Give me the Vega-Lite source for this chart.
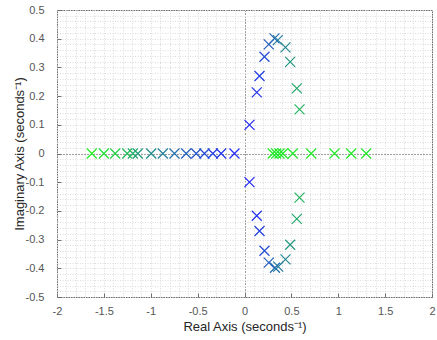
{
  "$schema": "https://vega.github.io/schema/vega-lite/v6.json",
  "width": 375,
  "height": 287,
  "autosize": {"type": "none"},
  "padding": {"left": 57, "top": 10, "right": 5, "bottom": 43},
  "background": "white",
  "config": {
    "view": {"stroke": "#707070", "strokeWidth": 1},
    "font": "Liberation Sans",
    "axis": {
      "domain": false,
      "labelFont": "Liberation Sans",
      "labelFontSize": 11,
      "labelColor": "#555555",
      "titleFont": "Liberation Sans",
      "titleFontSize": 13,
      "titleFontWeight": "normal",
      "titleColor": "#262626",
      "gridWidth": 1
    }
  },
  "data": {
    "values": [
      {"re": -0.107, "im": 0, "k": 0.03},
      {"re": -0.249, "im": 0, "k": 0.08},
      {"re": -0.338, "im": 0, "k": 0.13},
      {"re": -0.427, "im": 0, "k": 0.18},
      {"re": -0.515, "im": 0, "k": 0.24},
      {"re": -0.622, "im": 0, "k": 0.3},
      {"re": -0.747, "im": 0, "k": 0.38},
      {"re": -0.871, "im": 0, "k": 0.46},
      {"re": -0.995, "im": 0, "k": 0.52},
      {"re": -1.138, "im": 0, "k": 0.6},
      {"re": -1.191, "im": 0, "k": 0.68},
      {"re": -1.251, "im": 0, "k": 0.76},
      {"re": -1.379, "im": 0, "k": 0.86},
      {"re": -1.5, "im": 0, "k": 0.93},
      {"re": -1.629, "im": 0, "k": 1},
      {"re": 0.053, "im": 0.1, "k": 0.03},
      {"re": 0.131, "im": 0.213, "k": 0.08},
      {"re": 0.16, "im": 0.27, "k": 0.13},
      {"re": 0.213, "im": 0.337, "k": 0.2},
      {"re": 0.259, "im": 0.38, "k": 0.28},
      {"re": 0.32, "im": 0.401, "k": 0.36},
      {"re": 0.355, "im": 0.395, "k": 0.44},
      {"re": 0.437, "im": 0.37, "k": 0.5},
      {"re": 0.487, "im": 0.319, "k": 0.58},
      {"re": 0.558, "im": 0.227, "k": 0.66},
      {"re": 0.587, "im": 0.154, "k": 0.72},
      {"re": 0.053, "im": -0.1, "k": 0.03},
      {"re": 0.131, "im": -0.217, "k": 0.08},
      {"re": 0.16, "im": -0.27, "k": 0.13},
      {"re": 0.213, "im": -0.339, "k": 0.2},
      {"re": 0.259, "im": -0.38, "k": 0.28},
      {"re": 0.325, "im": -0.398, "k": 0.36},
      {"re": 0.36, "im": -0.394, "k": 0.44},
      {"re": 0.437, "im": -0.369, "k": 0.5},
      {"re": 0.487, "im": -0.318, "k": 0.58},
      {"re": 0.558, "im": -0.228, "k": 0.66},
      {"re": 0.587, "im": -0.154, "k": 0.72},
      {"re": 0.302, "im": 0, "k": 0.97},
      {"re": 0.338, "im": 0, "k": 0.97},
      {"re": 0.373, "im": 0, "k": 0.97},
      {"re": 0.409, "im": 0, "k": 0.97},
      {"re": 0.515, "im": 0, "k": 0.97},
      {"re": 0.711, "im": 0, "k": 0.97},
      {"re": 0.96, "im": 0, "k": 0.97},
      {"re": 1.138, "im": 0, "k": 0.97},
      {"re": 1.298, "im": 0, "k": 0.97}
    ]
  },
  "mark": {
    "type": "point",
    "shape": "M-1,-1L1,1M-1,1L1,-1",
    "size": 100,
    "filled": false,
    "strokeWidth": 1.2,
    "opacity": 1
  },
  "encoding": {
    "x": {
      "field": "re",
      "type": "quantitative",
      "scale": {"domain": [-2, 2], "nice": false, "zero": false},
      "axis": {
        "title": "Real Axis (seconds⁻¹)",
        "values": [-2, -1.9, -1.8, -1.7, -1.6, -1.5, -1.4, -1.3, -1.2, -1.1, -1, -0.9, -0.8, -0.7, -0.6, -0.5, -0.4, -0.3, -0.2, -0.1, 0, 0.1, 0.2, 0.3, 0.4, 0.5, 0.6, 0.7, 0.8, 0.9, 1, 1.1, 1.2, 1.3, 1.4, 1.5, 1.6, 1.7, 1.8, 1.9, 2],
        "labelExpr": "abs(round(datum.value*2) - datum.value*2) < 0.001 ? '' + datum.value : ''",
        "labelOverlap": false,
        "labelFlush": false,
        "grid": true,
        "gridColor": {"condition": {"test": "abs(datum.value) < 0.001", "value": "#404040"}, "value": "#dcdcdc"},
        "gridDash": {"condition": {"test": "abs(datum.value) < 0.001", "value": [1, 2]}, "value": [1, 1.5]},
        "tickSize": -4,
        "tickColor": "#707070",
        "tickOpacity": {"condition": {"test": "abs(round(datum.value*2) - datum.value*2) < 0.001", "value": 1}, "value": 0},
        "labelPadding": 12,
        "titlePadding": 4
      }
    },
    "y": {
      "field": "im",
      "type": "quantitative",
      "scale": {"domain": [-0.5, 0.5], "nice": false, "zero": false},
      "axis": {
        "title": "Imaginary Axis (seconds⁻¹)",
        "values": [-0.5, -0.48, -0.46, -0.44, -0.42, -0.4, -0.38, -0.36, -0.34, -0.32, -0.3, -0.28, -0.26, -0.24, -0.22, -0.2, -0.18, -0.16, -0.14, -0.12, -0.1, -0.08, -0.06, -0.04, -0.02, 0, 0.02, 0.04, 0.06, 0.08, 0.1, 0.12, 0.14, 0.16, 0.18, 0.2, 0.22, 0.24, 0.26, 0.28, 0.3, 0.32, 0.34, 0.36, 0.38, 0.4, 0.42, 0.44, 0.46, 0.48, 0.5],
        "labelExpr": "abs(round(datum.value*10) - datum.value*10) < 0.001 ? '' + datum.value : ''",
        "labelOverlap": false,
        "labelFlush": false,
        "grid": true,
        "gridColor": {"condition": {"test": "abs(datum.value) < 0.001", "value": "#404040"}, "value": "#dcdcdc"},
        "gridDash": {"condition": {"test": "abs(datum.value) < 0.001", "value": [1, 2]}, "value": [1, 1.5]},
        "tickSize": -4,
        "tickColor": "#707070",
        "tickOpacity": {"condition": {"test": "abs(round(datum.value*10) - datum.value*10) < 0.001", "value": 1}, "value": 0},
        "labelPadding": 17,
        "titlePadding": -1
      }
    },
    "color": {
      "field": "k",
      "type": "quantitative",
      "scale": {"domain": [0, 1], "range": ["#2222ff", "#22ee22"], "interpolate": "rgb"},
      "legend": null
    }
  }
}
